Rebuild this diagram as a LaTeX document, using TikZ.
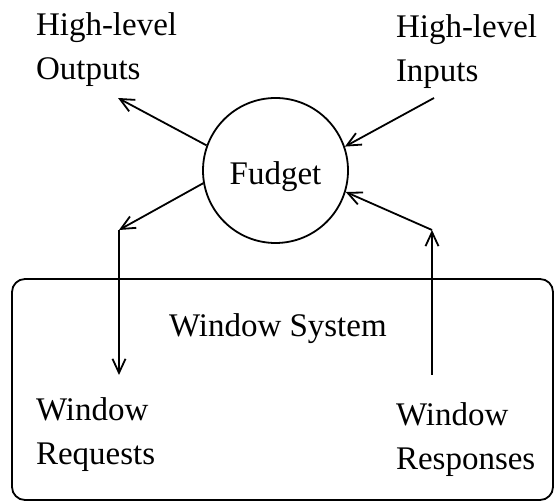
\documentclass[tikz,border=0pt]{standalone}
\usepackage{fontspec}
\setmainfont{Liberation Serif}
\usetikzlibrary{arrows.meta}
\begin{document}
\begin{tikzpicture}[x=1pt,y=1pt,
  wire/.style={draw=drawColor,line width=1.8pt,-{Straight Barb[length=14pt,width=13pt,line width=1.8pt]}},
  label/.style={text=drawColor,inner sep=0pt,outer sep=0pt,anchor=base west,align=left,font=\fontsize{33}{44}\selectfont}]
\definecolor{fillColor}{RGB}{255,255,255}
\definecolor{drawColor}{RGB}{0,0,0}
\path[use as bounding box,fill=fillColor] (0,0) rectangle (554,502);

% window system box
\path[draw=drawColor,line width=1.8pt,rounded corners=13pt] (12,2) rectangle (553,223);

\node[circle,draw=drawColor,line width=1.8pt,minimum size=145pt,inner sep=0pt,
  text height=29pt,text depth=0pt,
  font=\fontsize{33}{44}\selectfont] (fudget) at (275.5,331.5) {Fudget};

\coordinate (outTip) at (118,404);
\coordinate (inTail) at (434,404);
\coordinate (reqBend) at (119,272);
\coordinate (reqTip) at (119,127);
\coordinate (respTail) at (432,127);
\coordinate (respBend) at (432,272);

\draw[wire] (fudget.160) -- (outTip);
\draw[wire] (inTail) -- (fudget.19);
\draw[wire] (fudget.190) -- (reqBend);
\draw[wire] (reqBend) -- (reqTip);
\draw[wire] (respTail) -- (respBend);
\draw[wire] (respBend) -- (fudget.343);

% multi-line labels sit on the baseline of their last line
\node[label] (outputs) at ( 36,422) {High-level\\Outputs};
\node[label] (inputs) at (396,420) {High-level\\Inputs};
\node[label] (system) at (169,165) {Window System};
\node[label] (requests) at ( 36, 37) {Window\\Requests};
\node[label] (responses) at (396, 32) {Window\\Responses};
\end{tikzpicture}
\end{document}
